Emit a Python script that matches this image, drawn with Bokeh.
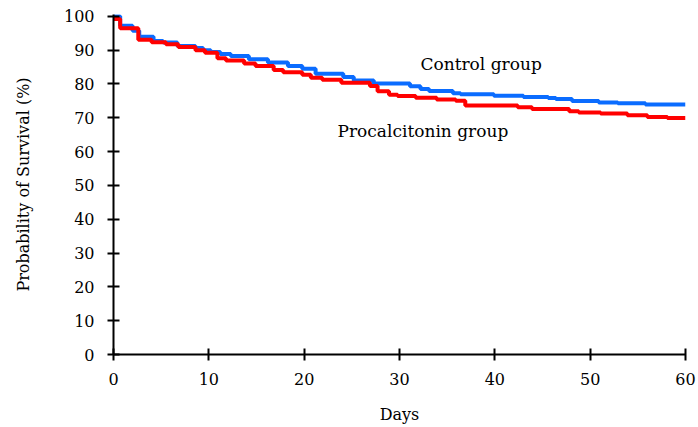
from bokeh.plotting import figure
from bokeh.models import Range1d, FixedTicker, ColumnDataSource
from bokeh.core.properties import value
from bokeh.embed import file_html
from bokeh.resources import INLINE

# Control group (blue) Kaplan-Meier steps
control_days = [0, 0.7, 2.0, 2.7, 4.2, 5.2, 6.7, 8.6, 9.4, 10.2, 11.2, 12.3, 14.2, 16.2,
                18.3, 19.8, 21.2, 24.1, 25.2, 27.3, 31.1, 32.2, 33.1, 35.6, 36.4, 39.9,
                43.0, 45.6, 46.4, 48.1, 50.9, 52.9, 55.8, 60]
control_surv = [100, 97.2, 95.7, 93.9, 92.7, 92.2, 91.2, 90.6, 89.9, 89.4, 88.8, 88.2, 87.3, 86.3,
                85.3, 84.5, 83.0, 82.0, 81.0, 80.1, 79.3, 78.5, 77.9, 77.2, 76.9, 76.5,
                76.1, 75.8, 75.5, 74.9, 74.5, 74.3, 73.9, 73.9]

# Procalcitonin group (red) Kaplan-Meier steps
pct_days = [0, 0.7, 2.6, 4.0, 5.5, 6.8, 8.6, 9.6, 10.9, 11.8, 13.7, 14.9, 16.8, 17.8, 19.8,
            20.7, 21.9, 23.9, 26.9, 27.7, 28.9, 29.8, 31.7, 33.9, 35.9, 36.9, 42.4, 43.9,
            47.8, 48.8, 51.1, 53.9, 56.0, 58.1, 60]
pct_surv = [99.2, 96.4, 93.0, 92.3, 91.7, 90.9, 89.9, 89.2, 87.6, 86.9, 86.0, 85.3, 84.1, 83.4, 82.7,
            81.8, 81.2, 80.3, 79.4, 77.8, 76.8, 76.4, 75.9, 75.4, 75.0, 73.6, 73.1, 72.6,
            71.9, 71.5, 71.2, 70.7, 70.2, 69.9, 69.9]

x_ticks = [0, 10, 20, 30, 40, 50, 60]
y_ticks = [0, 10, 20, 30, 40, 50, 60, 70, 80, 90, 100]

label_text = ["Control group", "Procalcitonin group"]
label_x = [32.2, 23.5]
label_y = [86.0, 66.0]

FONT = "DejaVu Serif"

p = figure(width=698, height=427, output_backend="svg", toolbar_location=None,
           x_range=Range1d(0, 60), y_range=Range1d(0, 100.5),
           min_border_left=113, min_border_right=13, min_border_top=14, min_border_bottom=73)
p.outline_line_color = None
p.xgrid.visible = False
p.ygrid.visible = False
p.background_fill_color = "white"
p.border_fill_color = "white"

p.step(control_days, control_surv, mode="after", line_color="#0a6cff", line_width=4)
p.step(pct_days, pct_surv, mode="after", line_color="#ff0000", line_width=4)

src = ColumnDataSource(dict(x=label_x, y=label_y, t=label_text))
p.text(x="x", y="y", text="t", source=src, text_font=value(FONT), text_font_size="17px",
       text_color="black", text_baseline="alphabetic", text_align="left")

for ax in (p.xaxis[0], p.yaxis[0]):
    ax.axis_line_color = "black"
    ax.axis_line_width = 2
    ax.major_tick_line_color = "black"
    ax.major_tick_line_width = 2
    ax.major_tick_in = 6
    ax.major_tick_out = 6
    ax.minor_tick_line_color = None
    ax.major_label_text_font = FONT
    ax.major_label_text_font_size = "16px"
    ax.major_label_text_color = "black"
    ax.axis_label_text_font = FONT
    ax.axis_label_text_font_size = "16px"
    ax.axis_label_text_font_style = "normal"
    ax.axis_label_text_color = "black"

p.xaxis.ticker = FixedTicker(ticks=x_ticks)
p.yaxis.ticker = FixedTicker(ticks=y_ticks)
p.xaxis.axis_label = "Days"
p.yaxis.axis_label = "Probability of Survival (%)"
p.xaxis.major_label_standoff = 12
p.yaxis.major_label_standoff = 13
p.xaxis.axis_label_standoff = 17
p.yaxis.axis_label_standoff = 28

open("out.html", "w").write(file_html(p, INLINE))
